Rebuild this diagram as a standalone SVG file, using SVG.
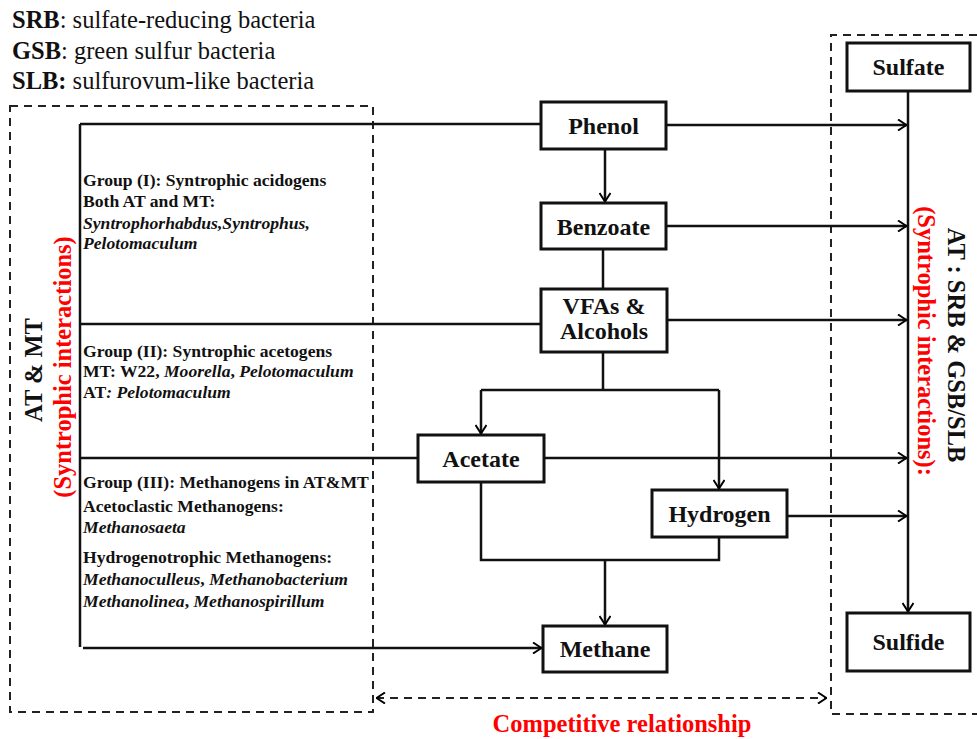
<svg xmlns="http://www.w3.org/2000/svg" width="977" height="739" viewBox="0 0 977 739">
<defs>
<marker id="ah" viewBox="0 0 10 12" refX="10" refY="6" markerWidth="10" markerHeight="12" markerUnits="userSpaceOnUse" orient="auto-start-reverse">
<path d="M1,0.5 L9.5,6 L1,11.5" fill="none" stroke="#000" stroke-width="2"/>
</marker>
</defs>
<style>
text{font-family:"Liberation Serif","Times New Roman",serif;fill:#111;}
.box{fill:#fff;stroke:#111;stroke-width:3;}
.nl{font-size:24px;font-weight:bold;text-anchor:middle;}
.ln{fill:none;stroke:#111;stroke-width:2.5;}
.ar{marker-end:url(#ah);}
.dash{fill:none;stroke:#222;stroke-width:2;stroke-dasharray:8 6;}
.g{font-size:17.6px;font-weight:bold;}
.i{font-style:italic;}
.leg{font-size:24.5px;}
.red{fill:#f00;font-weight:bold;font-size:24.5px;}
.big{font-size:24.5px;font-weight:bold;}
</style>
<rect width="977" height="739" fill="#fff"/>

<g id="legend">
<text class="leg" x="12" y="28"><tspan font-weight="bold">SRB</tspan>: sulfate-reducing bacteria</text>
<text class="leg" x="12" y="59"><tspan font-weight="bold">GSB</tspan>: green sulfur bacteria</text>
<text class="leg" x="12" y="89"><tspan font-weight="bold">SLB:</tspan> sulfurovum-like bacteria</text>
</g>

<g id="regions">
<rect class="dash" x="10" y="106" width="363" height="606"/>
<path class="dash" d="M977,35 H831 V714 H977"/>
</g>

<g id="connectors">
<path class="ln" d="M80,124 V647"/>
<path class="ln" d="M80,124 H541"/>
<path class="ln" d="M80,324 H541"/>
<path class="ln" d="M80,458 H418"/>
<path class="ln ar" d="M83,648 H542"/>
<path class="ln ar" d="M605,149 V202"/>
<path class="ln" d="M603,249 V289"/>
<path class="ln" d="M603,352 V390"/>
<path class="ln" d="M481,390 H719"/>
<path class="ln ar" d="M481,390 V434"/>
<path class="ln ar" d="M719,390 V489"/>
<path class="ln" d="M481,482 V560 H719 V537"/>
<path class="ln ar" d="M605,560 V625"/>
<path class="ln ar" d="M666,125 H907"/>
<path class="ln ar" d="M666,226 H907"/>
<path class="ln ar" d="M667,320 H907"/>
<path class="ln ar" d="M544,458 H907"/>
<path class="ln ar" d="M787,516 H907"/>
<path class="ln ar" d="M908,91 V612"/>
<path class="dash" d="M376,698 H827" marker-start="url(#ah)" marker-end="url(#ah)" style="stroke-width:2"/>
</g>

<g id="phenol"><rect class="box" x="541" y="102" width="125" height="47"/><text class="nl" x="603.5" y="134">Phenol</text></g>
<g id="benzoate"><rect class="box" x="541" y="203" width="125" height="46"/><text class="nl" x="603.5" y="235">Benzoate</text></g>
<g id="vfas"><rect class="box" x="541" y="289" width="126" height="63"/><text class="nl" x="604" y="314">VFAs &amp;</text><text class="nl" x="604" y="339">Alcohols</text></g>
<g id="acetate"><rect class="box" x="418" y="435" width="126" height="47"/><text class="nl" x="481" y="467">Acetate</text></g>
<g id="hydrogen"><rect class="box" x="652" y="490" width="135" height="47"/><text class="nl" x="719.5" y="522">Hydrogen</text></g>
<g id="methane"><rect class="box" x="543" y="626" width="124" height="46"/><text class="nl" x="605" y="657">Methane</text></g>
<g id="sulfate"><rect class="box" x="847" y="43" width="123" height="48"/><text class="nl" x="908.5" y="75">Sulfate</text></g>
<g id="sulfide"><rect class="box" x="847" y="613" width="123" height="58"/><text class="nl" x="908.5" y="650">Sulfide</text></g>

<g id="group1">
<text class="g" x="83" y="186">Group (I): Syntrophic acidogens</text>
<text class="g" x="83" y="207">Both AT and MT:</text>
<text class="g i" x="83" y="229">Syntrophorhabdus,Syntrophus,</text>
<text class="g i" x="83" y="249">Pelotomaculum</text>
</g>
<g id="group2">
<text class="g" x="83" y="357">Group (II): Syntrophic acetogens</text>
<text class="g" x="83" y="377">MT: W22, <tspan class="i">Moorella</tspan>, <tspan class="i">Pelotomaculum</tspan></text>
<text class="g" x="83" y="398">AT<tspan class="i">: Pelotomaculum</tspan></text>
</g>
<g id="group3">
<text class="g" x="83" y="488">Group (III): Methanogens in AT&amp;MT</text>
<text class="g" x="83" y="512">Acetoclastic Methanogens:</text>
<text class="g i" x="83" y="533">Methanosaeta</text>
<text class="g" x="83" y="563">Hydrogenotrophic Methanogens:</text>
<text class="g" x="83" y="585"><tspan class="i">Methanoculleus</tspan>, <tspan class="i">Methanobacterium</tspan></text>
<text class="g" x="83" y="607"><tspan class="i">Methanolinea</tspan>, <tspan class="i">Methanospirillum</tspan></text>
</g>

<g id="labels">
<text class="big" text-anchor="middle" transform="translate(42,370) rotate(-90)">AT &amp; MT</text>
<text class="red" text-anchor="middle" transform="translate(71,367) rotate(-90)">(Syntrophic interactions)</text>
<text class="big" text-anchor="middle" transform="translate(948,345) rotate(90)">AT : SRB &amp; GSB/SLB</text>
<text class="red" text-anchor="middle" transform="translate(918,341) rotate(90)">(Syntrophic interactions):</text>
<text class="red" text-anchor="middle" x="622" y="732">Competitive relationship</text>
</g>
</svg>
